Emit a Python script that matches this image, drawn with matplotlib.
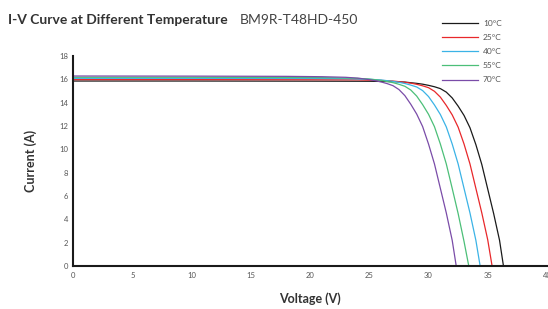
import matplotlib
matplotlib.use("Agg")
import matplotlib.pyplot as plt

plt.rcParams['font.family'] = ['Lato', 'DejaVu Sans']

# I-V points (voltage in V, current in A)
labels = ["10°C", "25°C", "40°C", "55°C", "70°C"]
colors = ["#1a1a1a", "#e8282b", "#3bb3e6", "#4cbf78", "#7a4ca8"]

v_10 = [0, 10, 20, 25, 27, 28, 29, 29.5, 30, 30.5, 31, 31.5, 32, 32.5, 33, 33.5, 34, 34.5, 35, 35.5, 36, 36.33]
i_10 = [15.85, 15.85, 15.84, 15.83, 15.80, 15.76, 15.65, 15.58, 15.48, 15.36, 15.2, 14.9, 14.4, 13.7, 12.9, 11.85, 10.4, 8.7, 6.6, 4.5, 2.2, 0]

v_25 = [0, 10, 20, 24, 26, 27, 28, 28.5, 29, 29.5, 30, 30.5, 31, 31.5, 32, 32.5, 33, 33.5, 34, 34.5, 35, 35.37]
i_25 = [15.97, 15.97, 15.96, 15.95, 15.9, 15.85, 15.74, 15.67, 15.57, 15.44, 15.28, 14.97, 14.47, 13.76, 12.95, 11.9, 10.45, 8.75, 6.65, 4.55, 2.25, 0]

v_40 = [0, 10, 20, 23, 25, 26, 27, 27.5, 28, 28.5, 29, 29.5, 30, 30.5, 31, 31.5, 32, 32.5, 33, 33.5, 34, 34.36]
i_40 = [16.08, 16.08, 16.07, 16.05, 16.0, 15.94, 15.82, 15.74, 15.64, 15.5, 15.34, 15.03, 14.52, 13.8, 12.98, 11.92, 10.45, 8.75, 6.65, 4.55, 2.2, 0]

v_55 = [0, 10, 20, 22, 24, 25, 26, 26.5, 27, 27.5, 28, 28.5, 29, 29.5, 30, 30.5, 31, 31.5, 32, 32.5, 33, 33.4]
i_55 = [16.17, 16.17, 16.15, 16.13, 16.08, 16.02, 15.9, 15.81, 15.71, 15.57, 15.4, 15.08, 14.56, 13.83, 13.0, 11.94, 10.45, 8.75, 6.65, 4.5, 2.1, 0]

v_70 = [0, 10, 18, 21, 23, 24, 25, 25.5, 26, 26.5, 27, 27.5, 28, 28.5, 29, 29.5, 30, 30.5, 31, 31.5, 32, 32.34]
i_70 = [16.28, 16.27, 16.25, 16.22, 16.17, 16.1, 15.97, 15.88, 15.77, 15.63, 15.45, 15.12, 14.6, 13.86, 13.02, 11.95, 10.45, 8.75, 6.65, 4.55, 2.2, 0]

curves = [(v_10, i_10), (v_25, i_25), (v_40, i_40), (v_55, i_55), (v_70, i_70)]

x_ticks = [0, 5, 10, 15, 20, 25, 30, 35, 40]
y_ticks = [0, 2, 4, 6, 8, 10, 12, 14, 16, 18]

fig = plt.figure(figsize=(5.48, 3.09), dpi=100)
ax = fig.add_axes([0.134, 0.139, 0.864, 0.680])

for (v, i), c, lab in zip(curves, colors, labels):
    ax.plot(v, i, color=c, lw=0.9, label=lab)

ax.set_xlim(0, 40)
ax.set_ylim(0, 18)
ax.set_xticks(x_ticks)
ax.set_yticks(y_ticks)
ax.tick_params(length=0, labelsize=5.5, labelcolor="#555555", pad=4)

for s in ["top", "right"]:
    ax.spines[s].set_visible(False)
for s in ["left", "bottom"]:
    ax.spines[s].set_linewidth(1.5)
    ax.spines[s].set_color("#1a1a1a")

ax.set_xlabel("Voltage (V)", fontsize=9, fontweight="bold", color="#333333", labelpad=10)
ax.set_ylabel("Current (A)", fontsize=9, fontweight="bold", color="#333333", labelpad=16)

fig.text(0.015, 0.935, "I-V Curve at Different Temperature", fontsize=10, fontweight="bold",
         color="#333333", va="center")
fig.text(0.438, 0.935, "BM9R-T48HD-450", fontsize=10, color="#444444", va="center")

leg = ax.legend(loc="upper left", bbox_to_anchor=(0.763, 1.206), frameon=False, fontsize=6,
                handlelength=4.3, handletextpad=0.6, labelspacing=0.85)
for t in leg.get_texts():
    t.set_color("#555555")

fig.savefig("out.png", dpi=100)
